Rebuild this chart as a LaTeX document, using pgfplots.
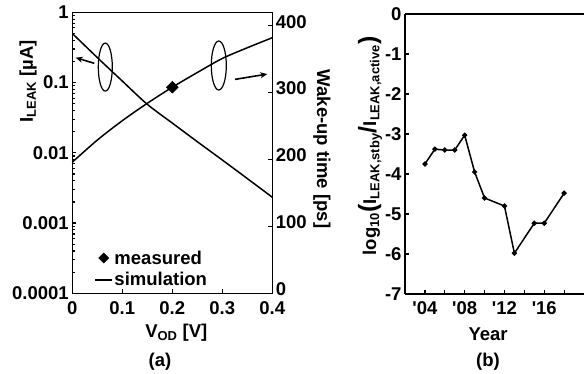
\documentclass[border=0pt]{standalone}
\usepackage{fontspec}
\setmainfont{Liberation Sans}
\usepackage{pgfplots}
\pgfplotsset{compat=1.18}
\usetikzlibrary{arrows.meta}

\begin{document}
\begin{tikzpicture}[x=1bp,y=1bp]
\useasboundingbox (0,0) rectangle (584,373);
\pgfplotsset{
  every axis/.append style={
    font=\fontsize{18.5bp}{20bp}\selectfont\bfseries,
    /pgf/number format/assume math mode=true,
    scale only axis,
    axis line style={line width=1.4bp},
    tick style={line width=1.2bp, black},
    major tick length=4bp,
    tick align=inside,
    clip=false,
  },
}
% ---------- (a) leakage, left log axis ----------
\begin{axis}[
  width=200bp, height=281bp,
  at={(72.3bp,79.7bp)}, anchor=south west,
  xmin=0, xmax=0.4,
  ymode=log, ymin=1e-4, ymax=1,
  xtick={0,0.1,0.2,0.3,0.4},
  xticklabels={0,0.1,0.2,0.3,0.4},
  xticklabel style={yshift=-4.5bp},
  ytick={1e-4,1e-3,1e-2,1e-1,1},
  yticklabels={0.0001,0.001,0.01,0.1,1},
  minor ytick={},
  xtick pos=bottom, ytick pos=left,
  xlabel={V\textsubscript{OD} [V]},
  xlabel style={at={(axis description cs:0.52,-0.14)}, anchor=center},
  ylabel={I\textsubscript{LEAK} [µA]},
  ylabel style={at={(axis description cs:-0.2215,0.755)}, anchor=center},
  legend style={draw=none, fill=none, at={(axis description cs:0.095,0.165)}, anchor=north west,
    font=\fontsize{18.5bp}{20bp}\selectfont\bfseries, row sep=4bp,
    nodes={inner sep=1.5bp}},
  legend cell align=left,
]
\addlegendimage{only marks, mark=square*, mark size=3.6bp, mark options={rotate=45, fill=black}}
\addlegendentry{measured}
\addlegendimage{line width=1.5bp, black}
\addlegendentry{simulation}
\addplot[line width=1.5bp, black, smooth, forget plot] coordinates {
  (0,0.50) (0.05,0.227) (0.10,0.105) (0.15,0.049) (0.20,0.0265)
  (0.25,0.0144) (0.30,0.0079) (0.35,0.0043) (0.40,0.00233)
};
\draw[line width=1.2bp] (axis cs:0.066,0.166) ellipse [x radius=7bp, y radius=24bp];
\draw[line width=1.2bp] (axis cs:0.293,0.175) ellipse [x radius=7.5bp, y radius=24.5bp];
\draw[line width=1.6bp, -{Stealth[length=7bp,width=6bp]}] (axis cs:0.044,0.188) -- (axis cs:0.0068,0.226);
\draw[line width=1.6bp, -{Stealth[length=7bp,width=6bp]}] (axis cs:0.3254,0.111) -- (axis cs:0.39,0.132);
\end{axis}
% ---------- (a) wake-up time, right linear axis ----------
\begin{axis}[
  width=200bp, height=281bp,
  at={(72.3bp,79.7bp)}, anchor=south west,
  xmin=0, xmax=0.4, ymin=0, ymax=420,
  axis x line=none, axis y line*=right,
  ytick={0,100,200,300,400},
  yticklabel style={yshift=4bp},
  ylabel={Wake-up time [ps]},
  ylabel style={at={(axis description cs:1.2485,0.5135)}, anchor=center, rotate=180},
]
\addplot[line width=1.5bp, black, smooth] coordinates {
  (0,196) (0.05,229) (0.10,258) (0.15,284) (0.20,308)
  (0.25,330) (0.30,351) (0.35,367) (0.40,382)
};
\addplot[only marks, mark=square*, mark size=4.2bp, mark options={rotate=45, fill=black}] coordinates {(0.2,308)};
\end{axis}
% ---------- (b) ----------
\begin{axis}[
  width=179bp, height=280bp,
  at={(405bp,79bp)}, anchor=south west,
  xmin=2002, xmax=2020, ymin=-7, ymax=0,
  axis lines*=left,
  xtick={2004,2006,...,2018},
  xticklabels={{\textquotesingle04},{},{\textquotesingle08},{},{\textquotesingle12},{},{\textquotesingle16},{}},
  xticklabel style={yshift=-4.5bp},
  ytick={-7,-6,-5,-4,-3,-2,-1,0},
  yticklabels={-7,-6,-5,-4,-3,-2,-1,0},
  xlabel={Year},
  xlabel style={at={(axis description cs:0.464,-0.145)}, anchor=center},
  ylabel={log\textsubscript{10}{\fontsize{25bp}{25bp}\selectfont(}I\textsubscript{LEAK,stby}{\fontsize{25bp}{25bp}\selectfont/}I\textsubscript{LEAK,active}{\fontsize{25bp}{25bp}\selectfont)}},
  ylabel style={at={(axis description cs:-0.1955,0.529)}, anchor=center},
]
\addplot[line width=1.5bp, black, mark=*, mark size=1.8bp] coordinates {
  (2004,-3.75) (2005,-3.38) (2006,-3.4) (2007,-3.4) (2008,-3.03)
  (2009,-3.95) (2010,-4.6) (2012,-4.8) (2013,-5.98) (2015,-5.23)
  (2016,-5.23) (2018,-4.48)
};
\draw[line width=1.4bp] (rel axis cs:0,1) -- (rel axis cs:1.05,1);
\end{axis}
\node[font=\fontsize{18.5bp}{20bp}\selectfont\bfseries] at (160,11) {(a)};
\node[font=\fontsize{18.5bp}{20bp}\selectfont\bfseries] at (488,11) {(b)};
\end{tikzpicture}
\end{document}
